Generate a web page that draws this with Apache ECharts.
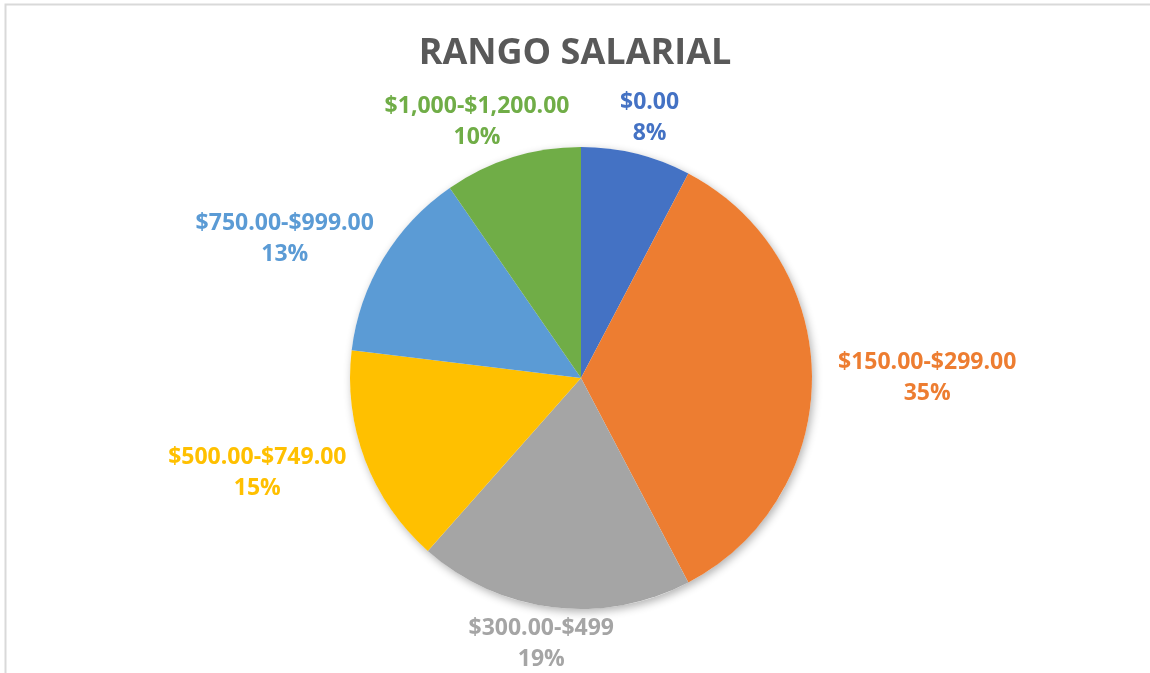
<!DOCTYPE html>
<html lang="es">
<head>
    <meta charset="UTF-8">
    <title>Rango salarial</title>
    <script type="text/javascript" src="https://cdn.jsdelivr.net/npm/echarts@6/dist/echarts.min.js"></script>
    <style>
        html, body { margin: 0; padding: 0; background: #fff; }
        #main { width: 1150px; height: 673px; }
    </style>
</head>
<body>
<div id="main"></div>
<script>
    // datos (conteos: 4/52 = 8%, etc.)
    var rangos = ['$0.00', '$150.00-$299.00', '$300.00-$499', '$500.00-$749.00', '$750.00-$999.00', '$1,000-$1,200.00'];
    var cantidades = [4, 18, 10, 8, 7, 5];
    var colores = ['#4472C4', '#ED7D31', '#A5A5A5', '#FFC000', '#5B9BD5', '#70AD47'];

    var centro = [581, 378];
    var radio = 231;
    // distancia de las etiquetas al borde (horizontal / vertical)
    var sepX = 26;
    var sepY = 14;

    var total = cantidades.reduce(function (a, b) { return a + b; }, 0);
    // angulo medio de cada porción (desde las 12, sentido horario)
    var angulos = [];
    var acum = 0;
    for (var i = 0; i < cantidades.length; i++) {
        angulos.push((acum + cantidades[i] / 2) / total * Math.PI * 2);
        acum += cantidades[i];
    }

    var datos = rangos.map(function (n, i) {
        return { name: n, value: cantidades[i] };
    });

    var myChart = echarts.init(document.getElementById('main'));
    var option = {
        color: colores,
        title: {
            text: 'RANGO SALARIAL',
            left: 'center',
            top: 31,
            textStyle: {
                fontFamily: 'Open Sans',
                fontSize: 36,
                fontWeight: 'bold',
                color: '#595959'
            }
        },
        // marco gris del gráfico
        graphic: [{
            type: 'rect',
            silent: true,
            shape: { x: 5.5, y: 4.5, width: 1200, height: 720 },
            style: { fill: 'none', stroke: '#d9d9d9', lineWidth: 2 }
        }],
        series: [
            {
                // sombra detrás del pastel
                type: 'pie',
                silent: true,
                center: centro,
                radius: radio,
                label: { show: false },
                labelLine: { show: false },
                itemStyle: {
                    color: '#fff',
                    shadowBlur: 9,
                    shadowOffsetX: 2,
                    shadowOffsetY: 3,
                    shadowColor: 'rgba(0,0,0,0.3)'
                },
                data: [total],
                z: 1
            },
            {
                type: 'pie',
                center: centro,
                radius: radio,
                startAngle: 90,
                clockwise: true,
                percentPrecision: 0,
                avoidLabelOverlap: false,
                itemStyle: { borderWidth: 0 },
                label: {
                    show: true,
                    position: 'outside',
                    formatter: '{b}\n{d}%',
                    color: 'inherit',
                    fontFamily: 'Open Sans',
                    fontSize: 23,
                    fontWeight: 'bold',
                    lineHeight: 31
                },
                labelLine: { show: false },
                labelLayout: function (p) {
                    var a = angulos[p.dataIndex];
                    var ux = Math.sin(a), uy = -Math.cos(a);
                    var w = p.labelRect.width, h = p.labelRect.height;
                    return {
                        x: centro[0] + ux * (radio + sepX) + ux * w / 2,
                        y: centro[1] + uy * (radio + sepY) + uy * h * 0.75 / 2,
                        align: 'center',
                        verticalAlign: 'middle'
                    };
                },
                emphasis: { scale: false },
                data: datos,
                z: 2
            }
        ]
    };
    myChart.setOption(option);
</script>
</body>
</html>
